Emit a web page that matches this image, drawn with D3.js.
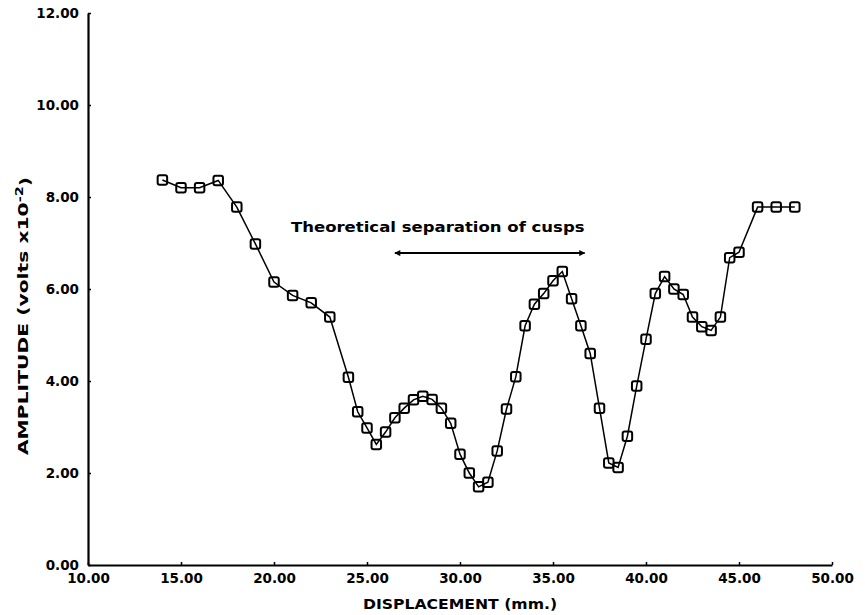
<!DOCTYPE html>
<html>
<head>
<meta charset="utf-8">
<script src="https://cdn.jsdelivr.net/npm/d3@7"></script>
<style>
  body { margin: 0; background: #fff; }
  svg { font-family: "DejaVu Sans", sans-serif; font-weight: bold; }
</style>
</head>
<body>
<svg id="chart" width="865" height="615"></svg>
<script>
var width = 865;
var height = 615;

// displacement (mm) and amplitude (volts x10^-2)
var displacement = [14, 15, 16, 17, 18, 19, 20, 21, 22, 23, 24, 24.5, 25, 25.5, 26, 26.5, 27, 27.5, 28, 28.5,
  29, 29.5, 30, 30.5, 31, 31.5, 32, 32.5, 33, 33.5, 34, 34.5, 35, 35.5, 36, 36.5, 37, 37.5, 38, 38.5,
  39, 39.5, 40, 40.5, 41, 41.5, 42, 42.5, 43, 43.5, 44, 44.5, 45, 46, 47, 48];
var amplitude = [8.37, 8.2, 8.2, 8.36, 7.78, 6.98, 6.15, 5.86, 5.7, 5.39, 4.08, 3.33, 2.98, 2.62, 2.89, 3.2, 3.41, 3.59, 3.67, 3.6,
  3.41, 3.08, 2.41, 2.0, 1.7, 1.8, 2.48, 3.39, 4.09, 5.2, 5.67, 5.9, 6.18, 6.38, 5.79, 5.2, 4.6, 3.41, 2.22, 2.12,
  2.8, 3.89, 4.91, 5.9, 6.27, 6.0, 5.88, 5.39, 5.18, 5.1, 5.39, 6.68, 6.8, 7.78, 7.78, 7.78];

var xTicks = [10, 15, 20, 25, 30, 35, 40, 45, 50];
var yTicks = [0, 2, 4, 6, 8, 10, 12];

var annotationText = "Theoretical separation of cusps";
var arrowFrom = 26.5;
var arrowTo = 36.7;
var arrowLevel = 6.78;

var svg = d3.select("#chart");

var x = d3.scaleLinear().domain([10, 50]).range([88, 832]);
var y = d3.scaleLinear().domain([0, 12]).range([565, 13]);

var points = displacement.map((d, i) => ({ x: d, y: amplitude[i] }));

// axes
var xAxis = svg.append("g")
  .attr("transform", `translate(0,${y(0)})`)
  .call(d3.axisBottom(x).tickValues(xTicks).tickFormat(d3.format(".2f")).tickSizeInner(-3).tickSizeOuter(0).tickPadding(8));

var yAxis = svg.append("g")
  .attr("transform", `translate(${x(10)},0)`)
  .call(d3.axisLeft(y).tickValues(yTicks).tickFormat(d3.format(".2f")).tickSizeInner(-3).tickSizeOuter(0).tickPadding(9));

svg.selectAll(".domain").attr("stroke", "#000").attr("stroke-width", 2.2);
svg.selectAll(".tick line").attr("stroke", "#000").attr("stroke-width", 1.5);
svg.selectAll(".tick text")
  .attr("fill", "#000")
  .style("font-size", "13.5px")
  .style("font-weight", "bold")
  .style("font-family", "DejaVu Sans, sans-serif");
yAxis.selectAll(".tick text").attr("dy", "0.36em");

// axis titles (the original lettering is an extended face, so stretch it)
svg.append("text")
  .attr("transform", "translate(460,609) scale(1.08,1)")
  .attr("text-anchor", "middle")
  .style("font-size", "14.5px")
  .text("DISPLACEMENT (mm.)");

var yTitle = svg.append("text")
  .attr("transform", "translate(28,316) rotate(-90) scale(1.45,1)")
  .attr("text-anchor", "middle")
  .style("font-size", "14px");
yTitle.append("tspan").text("AMPLITUDE (volts x10");
yTitle.append("tspan").attr("dy", "-0.5em").style("font-size", "10px").text("-2");
yTitle.append("tspan").attr("dy", "0.5em").text(")");

// the curve
var line = d3.line().x(d => x(d.x)).y(d => y(d.y));

svg.append("path")
  .datum(points)
  .attr("fill", "none")
  .attr("stroke", "#000")
  .attr("stroke-width", 1.5)
  .attr("d", line);

var m = 9.5;
svg.selectAll(".marker")
  .data(points)
  .enter()
  .append("rect")
  .attr("class", "marker")
  .attr("x", d => x(d.x) - m / 2)
  .attr("y", d => y(d.y) - m / 2)
  .attr("width", m)
  .attr("height", m)
  .attr("rx", 2)
  .attr("fill", "none")
  .attr("stroke", "#000")
  .attr("stroke-width", 2);

// annotation
svg.append("defs").append("marker")
  .attr("id", "head")
  .attr("viewBox", "0 0 10 10")
  .attr("refX", 9)
  .attr("refY", 5)
  .attr("markerWidth", 9)
  .attr("markerHeight", 6)
  .attr("markerUnits", "userSpaceOnUse")
  .attr("orient", "auto-start-reverse")
  .append("path")
  .attr("d", "M0,0 L10,5 L0,10 z")
  .attr("fill", "#000");

svg.append("line")
  .attr("x1", x(arrowFrom))
  .attr("x2", x(arrowTo))
  .attr("y1", y(arrowLevel))
  .attr("y2", y(arrowLevel))
  .attr("stroke", "#000")
  .attr("stroke-width", 2)
  .attr("marker-start", "url(#head)")
  .attr("marker-end", "url(#head)");

var annX = (x(arrowFrom) + x(arrowTo)) / 2 - 52;
var annY = y(arrowLevel) - 21;
svg.append("text")
  .attr("transform", `translate(${annX},${annY}) scale(1.18,1)`)
  .attr("text-anchor", "middle")
  .style("font-size", "14px")
  .text(annotationText);
</script>
</body>
</html>
